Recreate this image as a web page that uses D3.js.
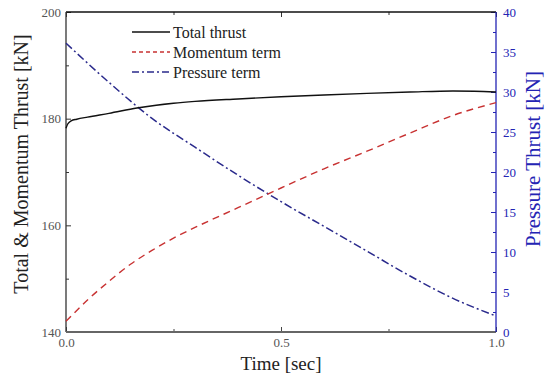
<!DOCTYPE html>
<html>
<head>
<meta charset="utf-8">
<script src="https://cdn.jsdelivr.net/npm/d3@7"></script>
<style>
  body { margin: 0; background: #fff; }
  text { font-family: "Liberation Serif", "Times New Roman", serif; }
</style>
</head>
<body>
<div id="chart-area"></div>
<script>
// data
var timeTotal = [0, 0.004, 0.012, 0.025, 0.05, 0.1, 0.165, 0.25, 0.3, 0.4, 0.5, 0.6, 0.7, 0.8, 0.9, 0.95, 1.0];
var totalThrust = [178.2, 179.0, 179.6, 179.9, 180.3, 181.0, 182.0, 182.9, 183.25, 183.7, 184.1, 184.45, 184.75, 185.0, 185.2, 185.15, 185.0];

var timeMom = [0, 0.05, 0.1, 0.15, 0.2, 0.25, 0.3, 0.4, 0.5, 0.6, 0.7, 0.8, 0.9, 1.0];
var momentumTerm = [142.0, 146.0, 149.5, 152.7, 155.3, 157.6, 159.6, 163.3, 167.0, 170.6, 173.9, 177.3, 180.6, 183.0];

var timePress = [0, 0.1, 0.2, 0.3, 0.4, 0.5, 0.6, 0.7, 0.8, 0.9, 1.0];
var pressureTerm = [36.1, 31.2, 26.7, 23.1, 19.6, 16.3, 13.2, 10.1, 7.0, 4.2, 2.0];

var xTicks = [0, 0.5, 1.0];
var leftTicks = [140, 160, 180, 200];
var rightTicks = [0, 5, 10, 15, 20, 25, 30, 35, 40];

var margin = { top: 12, right: 53, bottom: 46, left: 66 },
  width = 549 - margin.left - margin.right,
  height = 378 - margin.top - margin.bottom;

var svg = d3.select("#chart-area")
  .append("svg")
  .attr("width", 549)
  .attr("height", 378)
  .append("g")
  .attr("transform", "translate(" + margin.left + "," + margin.top + ")");

var x = d3.scaleLinear().domain([0, 1]).range([0, width]);
var yL = d3.scaleLinear().domain([140, 200]).range([height, 0]);
var yR = d3.scaleLinear().domain([0, 40]).range([height, 0]);

var blue = "#2424b4";

// axes, ticks pointing inward
function styleAxis(g, color, fontColor) {
  g.select(".domain").remove();
  g.selectAll("line").attr("stroke", color);
  g.selectAll("text")
    .attr("font-size", "13px")
    .attr("fill", fontColor)
    .style("font-family", "Liberation Serif, serif");
}

// bottom
svg.append("g")
  .attr("transform", "translate(0," + height + ")")
  .call(d3.axisBottom(x).tickValues(xTicks).tickSizeInner(-5).tickSizeOuter(0).tickPadding(6).tickFormat(d3.format(".1f")))
  .call(styleAxis, "#444", "#555");
svg.append("g")
  .attr("transform", "translate(0," + height + ")")
  .call(d3.axisBottom(x).tickValues([0.25, 0.75]).tickSizeInner(-3).tickSizeOuter(0).tickFormat(""))
  .call(styleAxis, "#444", "#555");

// top (mirror)
svg.append("g")
  .call(d3.axisTop(x).tickValues(xTicks).tickSizeInner(-5).tickSizeOuter(0).tickFormat(""))
  .call(styleAxis, "#333", "#555");
svg.append("g")
  .call(d3.axisTop(x).tickValues([0.25, 0.75]).tickSizeInner(-3).tickSizeOuter(0).tickFormat(""))
  .call(styleAxis, "#333", "#555");

// left
svg.append("g")
  .call(d3.axisLeft(yL).tickValues(leftTicks).tickSizeInner(-5).tickSizeOuter(0).tickPadding(5).tickFormat(d3.format("d")))
  .call(styleAxis, "#333", "#555");
svg.append("g")
  .call(d3.axisLeft(yL).tickValues([150, 170, 190]).tickSizeInner(-3).tickSizeOuter(0).tickFormat(""))
  .call(styleAxis, "#333", "#555");

// right
svg.append("g")
  .attr("transform", "translate(" + width + ",0)")
  .call(d3.axisRight(yR).tickValues(rightTicks).tickSizeInner(-5).tickSizeOuter(0).tickPadding(7).tickFormat(d3.format("d")))
  .call(styleAxis, blue, blue);
svg.append("g")
  .attr("transform", "translate(" + width + ",0)")
  .call(d3.axisRight(yR).tickValues(d3.range(2.5, 40, 5)).tickSizeInner(-3).tickSizeOuter(0).tickFormat(""))
  .call(styleAxis, blue, blue);

// frame
svg.append("line").attr("x1", 0).attr("x2", width).attr("y1", 0).attr("y2", 0)
  .attr("stroke", "#111").attr("stroke-width", 1.3);
svg.append("line").attr("x1", 0).attr("x2", 0).attr("y1", 0).attr("y2", height)
  .attr("stroke", "#333").attr("stroke-width", 1.3);
svg.append("line").attr("x1", 0).attr("x2", width).attr("y1", height).attr("y2", height)
  .attr("stroke", "#666").attr("stroke-width", 2);
svg.append("line").attr("x1", width).attr("x2", width).attr("y1", 0).attr("y2", height)
  .attr("stroke", blue).attr("stroke-width", 1.3);

// lines
var lineL = d3.line().curve(d3.curveMonotoneX)
  .x(function(d) { return x(d[0]); })
  .y(function(d) { return yL(d[1]); });
var lineR = d3.line().curve(d3.curveMonotoneX)
  .x(function(d) { return x(d[0]); })
  .y(function(d) { return yR(d[1]); });

svg.append("path")
  .datum(d3.zip(timePress, pressureTerm))
  .attr("d", lineR)
  .attr("fill", "none")
  .attr("stroke", "#2a2a8c")
  .attr("stroke-width", 1.5)
  .attr("stroke-dasharray", "8,3,2,3");

svg.append("path")
  .datum(d3.zip(timeMom, momentumTerm))
  .attr("d", lineL)
  .attr("fill", "none")
  .attr("stroke", "#c83232")
  .attr("stroke-width", 1.4)
  .attr("stroke-dasharray", "7,5");

svg.append("path")
  .datum(d3.zip(timeTotal, totalThrust))
  .attr("d", lineL)
  .attr("fill", "none")
  .attr("stroke", "#111")
  .attr("stroke-width", 1.4);

// legend
var legendItems = [
  { name: "Total thrust", color: "#111", dash: null },
  { name: "Momentum term", color: "#c83232", dash: "4,3" },
  { name: "Pressure term", color: "#2a2a8c", dash: "7,3,2,3" }
];
var legend = svg.append("g").attr("transform", "translate(66,20)");
legendItems.forEach(function(d, i) {
  legend.append("line")
    .attr("x1", 0).attr("x2", 38)
    .attr("y1", i * 20).attr("y2", i * 20)
    .attr("stroke", d.color)
    .attr("stroke-width", 1.3)
    .attr("stroke-dasharray", d.dash);
  legend.append("text")
    .attr("x", 41).attr("y", i * 20)
    .attr("dy", "0.35em")
    .attr("font-size", "16px")
    .attr("fill", "#222")
    .text(d.name);
});

// axis titles
svg.append("text")
  .attr("x", width / 2)
  .attr("y", height + 38)
  .attr("text-anchor", "middle")
  .attr("font-size", "19px")
  .attr("fill", "#222")
  .text("Time [sec]");

svg.append("text")
  .attr("transform", "rotate(-90)")
  .attr("x", -152)
  .attr("y", -38)
  .attr("text-anchor", "middle")
  .attr("font-size", "20px")
  .attr("fill", "#222")
  .text("Total & Momentum Thrust [kN]");

svg.append("text")
  .attr("transform", "rotate(-90)")
  .attr("x", -147)
  .attr("y", width + 44)
  .attr("text-anchor", "middle")
  .attr("font-size", "21px")
  .attr("fill", blue)
  .text("Pressure Thrust [kN]");
</script>
</body>
</html>
